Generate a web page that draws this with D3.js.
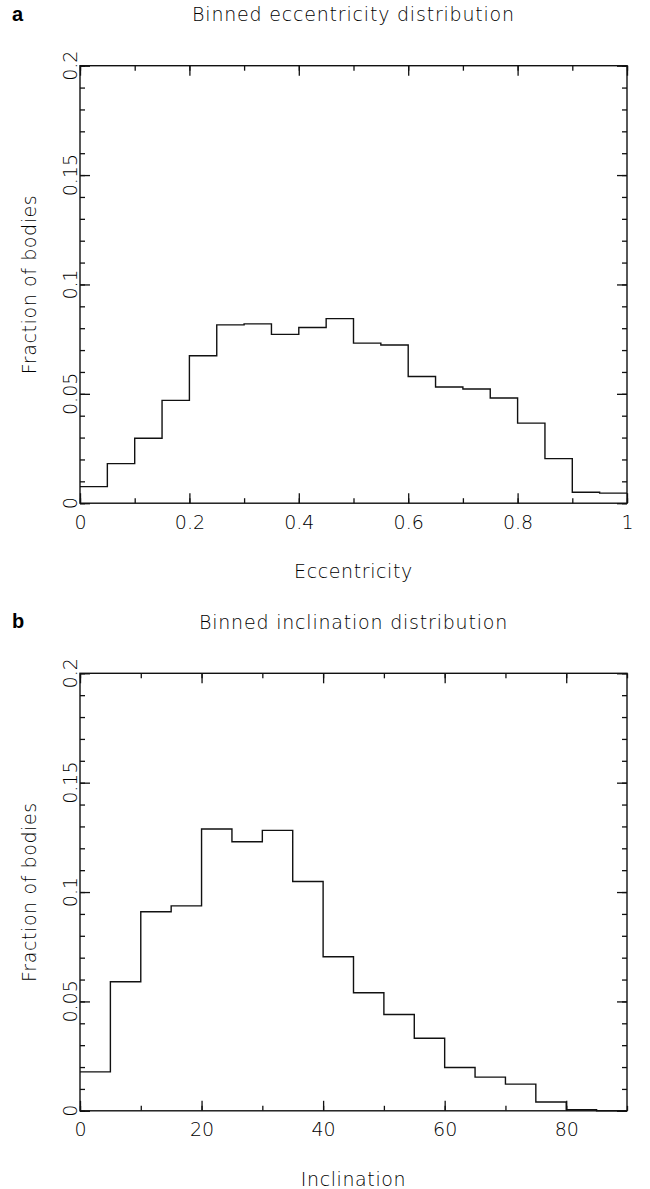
<!DOCTYPE html>
<html>
<head>
<meta charset="utf-8">
<script src="https://cdn.jsdelivr.net/npm/d3@7"></script>
<style>
  body { margin: 0; background: #fff; }
  svg text { font-family: "DejaVu Sans", sans-serif; font-weight: 200; fill: #000; font-size: 19px; }
  .tag { font-family: "Liberation Sans", Arial, sans-serif; font-weight: bold; fill: #000; }
</style>
</head>
<body>
<div id="chart"></div>
<script>
// eccentricity bins: 0 to 1, step 0.05
const eccEdges = [0, 0.05, 0.1, 0.15, 0.2, 0.25, 0.3, 0.35, 0.4, 0.45, 0.5,
  0.55, 0.6, 0.65, 0.7, 0.75, 0.8, 0.85, 0.9, 0.95, 1];
const eccFraction = [0.0076, 0.0181, 0.0297, 0.0470, 0.0674, 0.0815, 0.0820, 0.0772,
  0.0803, 0.0844, 0.0732, 0.0723, 0.0579, 0.0531, 0.0522, 0.0481, 0.0366, 0.0204,
  0.0050, 0.0046];
const eccTicks = [0, 0.2, 0.4, 0.6, 0.8, 1];
const eccTickLabels = ['0', '0.2', '0.4', '0.6', '0.8', '1'];

// inclination bins: 0 to 90 degrees, step 5
const incEdges = [0, 5, 10, 15, 20, 25, 30, 35, 40, 45, 50, 55, 60, 65, 70, 75, 80, 85, 90];
const incFraction = [0.0178, 0.0590, 0.0910, 0.0937, 0.1288, 0.1230, 0.1282, 0.1048,
  0.0704, 0.0540, 0.0440, 0.0332, 0.0198, 0.0154, 0.0122, 0.0040, 0.0005, 0];
const incTicks = [0, 20, 40, 60, 80];
const incTickLabels = ['0', '20', '40', '60', '80'];

const yTicks = [0, 0.05, 0.1, 0.15, 0.2];
const yTickLabels = ['0', '0.05', '0.1', '0.15', '0.2'];

const svg = d3.select('#chart').append('svg')
  .attr('width', 650)
  .attr('height', 1189);

function drawPanel(opt) {
  const left = 80, right = 627;
  const top = opt.top, bottom = opt.top + 437.5;

  const x = d3.scaleLinear().domain(opt.xDomain).range([left, right]);
  const y = d3.scaleLinear().domain([0, 0.2]).range([bottom, top]);

  const g = svg.append('g');

  // panel letter + title
  g.append('text').attr('class', 'tag')
    .attr('x', 12).attr('y', top - 45)
    .style('font-size', '20px')
    .text(opt.tag);
  g.append('text')
    .attr('x', (left + right) / 2).attr('y', top - 44.5)
    .attr('text-anchor', 'middle')
    .style('letter-spacing', '0.8px')
    .text(opt.title);

  // minor + major ticks on all four sides, pointing inward
  const tickAxis = (axisFn, scale, values, size, pos) => {
    const a = g.append('g')
      .attr('transform', pos)
      .call(axisFn(scale).tickValues(values).tickSize(-size).tickFormat(''));
    a.select('.domain').remove();
    a.selectAll('line').attr('stroke', '#111').attr('stroke-width', 1.3);
  };
  const minorY = d3.range(0, 0.2001, 0.01);
  tickAxis(d3.axisBottom, x, opt.minorX, 5, `translate(0,${bottom})`);
  tickAxis(d3.axisBottom, x, opt.xTicks, 10, `translate(0,${bottom})`);
  tickAxis(d3.axisTop, x, opt.minorX, 5, `translate(0,${top})`);
  tickAxis(d3.axisTop, x, opt.xTicks, 10, `translate(0,${top})`);
  tickAxis(d3.axisLeft, y, minorY, 5, `translate(${left},0)`);
  tickAxis(d3.axisLeft, y, yTicks, 10, `translate(${left},0)`);
  tickAxis(d3.axisRight, y, minorY, 5, `translate(${right},0)`);
  tickAxis(d3.axisRight, y, yTicks, 10, `translate(${right},0)`);

  // frame
  g.append('rect')
    .attr('x', left).attr('y', top)
    .attr('width', right - left).attr('height', bottom - top)
    .attr('fill', 'none').attr('stroke', '#111').attr('stroke-width', 1.4);

  // x tick labels
  const xa = g.append('g')
    .attr('transform', `translate(0,${bottom})`)
    .call(d3.axisBottom(x).tickValues(opt.xTicks).tickSize(0).tickPadding(12)
      .tickFormat((d, i) => opt.xTickLabels[i]));
  xa.select('.domain').remove();
  xa.attr('font-family', null).attr('font-size', null);
  xa.selectAll('text').attr('fill', null);

  // y tick labels, rotated
  g.selectAll('.ylab').data(yTicks).enter().append('text')
    .attr('class', 'ylab')
    .attr('transform', d => `translate(77,${y(d)}) rotate(-90)`)
    .attr('text-anchor', 'middle')
    .text((d, i) => yTickLabels[i]);

  // axis titles
  g.append('text')
    .attr('x', (left + right) / 2).attr('y', bottom + 75)
    .attr('text-anchor', 'middle')
    .style('letter-spacing', '0.6px')
    .text(opt.xLabel);
  g.append('text')
    .attr('transform', `translate(36,${(top + bottom) / 2}) rotate(-90)`)
    .attr('text-anchor', 'middle')
    .style('letter-spacing', '0.6px')
    .text('Fraction of bodies');

  // histogram as a step line
  const pts = opt.values.map((v, i) => [opt.edges[i], v]);
  pts.push([opt.edges[opt.edges.length - 1], opt.values[opt.values.length - 1]]);
  const line = d3.line()
    .x(d => x(d[0]))
    .y(d => y(d[1]))
    .curve(d3.curveStepAfter);
  g.append('path')
    .datum(pts)
    .attr('d', line)
    .attr('fill', 'none')
    .attr('stroke', '#111')
    .attr('stroke-width', 1.4);
}

drawPanel({
  top: 65.7,
  tag: 'a',
  title: 'Binned eccentricity distribution',
  xDomain: [0, 1],
  xTicks: eccTicks,
  xTickLabels: eccTickLabels,
  minorX: d3.range(0, 1.0001, 0.1),
  xLabel: 'Eccentricity',
  edges: eccEdges,
  values: eccFraction
});

drawPanel({
  top: 673.3,
  tag: 'b',
  title: 'Binned inclination distribution',
  xDomain: [0, 90],
  xTicks: incTicks,
  xTickLabels: incTickLabels,
  minorX: d3.range(0, 90.001, 10),
  xLabel: 'Inclination',
  edges: incEdges,
  values: incFraction
});
</script>
</body>
</html>
